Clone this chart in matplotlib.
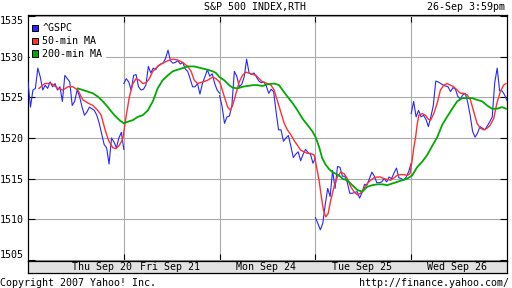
import numpy as np
import matplotlib
matplotlib.use("Agg")
import matplotlib.pyplot as plt
from matplotlib.patches import Patch

# ---------------- data ----------------
days = ["Thu Sep 20", "Fri Sep 21", "Mon Sep 24", "Tue Sep 25", "Wed Sep 26"]
session_minutes = 390
minute_of_day = np.arange(0, 391, 10)

gspc_thu = [1526.9, 1523.8, 1525.9, 1526.1, 1528.6, 1527.5, 1525.9, 1526.5, 1526.1, 1526.9,
            1526.3, 1526.7, 1525.9, 1526.3, 1524.5, 1527.7, 1527.3, 1526.9, 1524.0, 1524.5,
            1525.9, 1525.1, 1523.8, 1522.8, 1523.2, 1523.8, 1523.6, 1523.4, 1522.8, 1521.8,
            1520.5, 1519.2, 1518.8, 1516.8, 1520.0, 1519.5, 1518.8, 1520.0, 1520.7, 1518.6]
gspc_fri = [1526.7, 1527.3, 1526.9, 1525.9, 1527.7, 1527.8, 1526.3, 1525.9, 1526.0, 1526.5,
            1528.8, 1528.0, 1528.6, 1528.4, 1528.9, 1529.1, 1529.2, 1529.8, 1530.8, 1529.5,
            1529.2, 1529.3, 1529.5, 1529.1, 1529.3, 1528.5, 1528.2, 1527.3, 1526.3, 1526.3,
            1526.7, 1525.4, 1526.7, 1527.5, 1528.4, 1527.6, 1527.9, 1526.7, 1525.9, 1525.5]
gspc_mon = [1525.2, 1523.9, 1521.8, 1522.6, 1522.7, 1524.0, 1528.2, 1527.6, 1526.3, 1526.6,
            1527.5, 1529.7, 1528.0, 1527.8, 1528.0, 1527.5, 1527.0, 1526.8, 1526.9, 1526.4,
            1525.5, 1526.0, 1525.7, 1523.2, 1521.0, 1521.0, 1519.6, 1520.0, 1520.3, 1519.0,
            1517.6, 1518.0, 1518.3, 1517.2, 1518.0, 1518.6, 1518.2, 1518.0, 1516.9, 1517.5]
gspc_tue = [1510.2, 1509.5, 1508.7, 1509.5, 1511.8, 1513.8, 1512.8, 1516.0, 1513.8, 1516.5,
            1516.4, 1515.3, 1515.3, 1514.5, 1513.2, 1513.2, 1513.3, 1513.4, 1512.6, 1513.3,
            1514.3, 1514.2, 1515.0, 1515.8, 1515.3, 1514.5, 1514.5, 1514.6, 1515.0, 1514.6,
            1515.2, 1515.0, 1515.7, 1516.3, 1515.1, 1515.0, 1514.8, 1515.2, 1515.9, 1516.9]
gspc_wed = [1523.0, 1524.5, 1522.6, 1523.4, 1522.6, 1522.8, 1522.3, 1521.4, 1522.6, 1524.0,
            1527.0, 1526.9, 1526.7, 1526.5, 1526.4, 1526.3, 1525.7, 1526.2, 1526.0, 1525.1,
            1524.8, 1525.3, 1525.5, 1524.4, 1522.8, 1520.8, 1520.1, 1520.6, 1521.4, 1521.2,
            1521.0, 1521.5, 1522.0, 1522.6, 1526.8, 1528.6, 1525.8, 1525.8, 1525.3, 1524.6]
gspc_days = [gspc_thu, gspc_fri, gspc_mon, gspc_tue, gspc_wed]

# 50-min moving average (trading minutes since Thu open, price)
ma50_t = [45, 68, 95, 122, 142, 162, 183, 203, 223, 244, 264, 284, 298, 314, 328, 345, 359,
          372, 386, 399, 413, 427, 440, 454, 467, 481, 494, 508, 528, 548, 569, 589, 609, 630,
          650, 664, 677, 691, 711, 731, 752, 765, 779, 785, 799, 813, 824, 833, 847, 860, 873,
          887, 907, 928, 941, 955, 975, 989, 1002, 1016, 1029, 1043, 1056, 1070, 1083, 1097,
          1110, 1124, 1138, 1151, 1165, 1175, 1185, 1194, 1203, 1212, 1222, 1232, 1246, 1259,
          1273, 1287, 1300, 1314, 1327, 1341, 1354, 1368, 1381, 1395, 1408, 1422, 1435, 1449,
          1463, 1476, 1490, 1503, 1517, 1530, 1544, 1555, 1564, 1571, 1578, 1584, 1591, 1605,
          1618, 1630, 1639, 1652, 1666, 1679, 1693, 1706, 1720, 1733, 1747, 1760, 1774, 1788,
          1801, 1815, 1828, 1842, 1855, 1869, 1882, 1896, 1909, 1923, 1936, 1946]
ma50_v = [1526.1, 1526.7, 1526.7, 1526.1, 1525.9, 1526.3, 1526.3, 1525.9, 1524.7, 1524.3,
          1524.0, 1523.4, 1522.8, 1521.0, 1519.7, 1518.8, 1518.7, 1519.1, 1519.9, 1522.6,
          1525.1, 1526.7, 1527.3, 1527.1, 1526.7, 1526.8, 1527.3, 1528.2, 1528.8, 1529.2,
          1529.5, 1529.7, 1529.6, 1529.3, 1528.8, 1528.2, 1527.1, 1526.7, 1526.9, 1527.1,
          1527.5, 1527.3, 1526.9, 1526.5, 1525.1, 1523.8, 1523.4, 1524.0, 1525.5, 1526.9,
          1527.7, 1528.1, 1527.9, 1527.7, 1527.3, 1526.9, 1526.7, 1526.5, 1525.9, 1524.5,
          1523.2, 1521.8, 1521.0, 1520.4, 1519.7, 1519.1, 1518.5, 1518.3, 1518.1, 1518.1,
          1517.9, 1516.4, 1514.8, 1512.8, 1511.1, 1510.3, 1510.7, 1512.3, 1514.0, 1515.2,
          1515.8, 1515.6, 1515.0, 1514.0, 1513.4, 1513.0, 1513.2, 1513.8, 1514.4, 1514.8,
          1515.1, 1515.2, 1515.2, 1515.0, 1514.9, 1514.8, 1515.1, 1515.4, 1515.5, 1515.5,
          1515.4, 1515.6, 1517.3, 1518.9, 1520.1, 1521.6, 1522.8, 1523.0, 1522.8, 1522.3,
          1522.2, 1523.0, 1524.3, 1525.9, 1526.5, 1526.7, 1526.5, 1526.3, 1525.9, 1525.5,
          1525.5, 1525.3, 1524.7, 1523.2, 1521.8, 1521.2, 1521.0, 1521.2, 1521.6, 1522.4,
          1524.3, 1525.7, 1526.5, 1526.7]

# 200-min moving average
ma200_t = [203, 223, 244, 264, 284, 305, 325, 341, 352, 372, 390, 406, 427, 447, 467, 488,
           508, 528, 548, 569, 589, 609, 630, 650, 677, 704, 731, 752, 765, 779, 799, 819,
           833, 853, 873, 894, 914, 934, 955, 975, 1002, 1022, 1036, 1056, 1077, 1097, 1117,
           1138, 1158, 1171, 1185, 1198, 1212, 1225, 1239, 1253, 1266, 1280, 1300, 1320, 1341,
           1361, 1381, 1402, 1422, 1442, 1463, 1483, 1503, 1523, 1544, 1564, 1584, 1605, 1625,
           1645, 1666, 1686, 1706, 1727, 1747, 1767, 1788, 1808, 1828, 1849, 1869, 1889, 1909,
           1930, 1946]
ma200_v = [1526.1, 1525.9, 1525.7, 1525.5, 1525.1, 1524.5, 1523.8, 1523.2, 1522.8, 1522.2,
           1521.8, 1522.0, 1522.2, 1522.6, 1522.8, 1523.4, 1524.5, 1526.1, 1527.1, 1527.7,
           1528.2, 1528.4, 1528.6, 1528.8, 1528.8, 1528.6, 1528.4, 1528.2, 1528.0, 1527.5,
           1527.1, 1526.5, 1526.2, 1526.1, 1526.3, 1526.4, 1526.5, 1526.5, 1526.4, 1526.6,
           1526.7, 1526.5, 1525.9, 1525.1, 1524.3, 1523.4, 1522.4, 1521.6, 1520.8, 1520.1,
           1518.9, 1517.5, 1516.7, 1516.2, 1515.8, 1515.6, 1515.4, 1515.0, 1514.8, 1514.2,
           1513.6, 1513.4, 1514.0, 1514.2, 1514.3, 1514.3, 1514.2, 1514.4, 1514.6, 1514.8,
           1515.0, 1515.4, 1516.4, 1517.1, 1517.9, 1519.0, 1520.1, 1521.6, 1522.6, 1523.6,
           1524.5, 1524.9, 1524.9, 1524.9, 1524.7, 1524.5, 1524.0, 1523.6, 1523.6, 1523.8,
           1523.6]

yticks = [1505, 1510, 1515, 1520, 1525, 1530, 1535]
series_names = ["^GSPC", "50-min MA", "200-min MA"]

# ---------------- style ----------------
BLUE, RED, GREEN = "#2626ff", "#ff3030", "#00aa00"
MONO = "DejaVu Sans Mono"
FS = 7.2
W, H = 512, 288

fig = plt.figure(figsize=(W / 100, H / 100), dpi=100)
fig.patch.set_facecolor("white")

L, R, T, B = 28, 507, 15, 260.5
ax = fig.add_axes([L / W, 1 - B / H, (R - L) / W, (B - T) / H])
ax.set_xlim(0, 5 * session_minutes)
ax.set_ylim(1504.93, 1535.13)

for d, vals in enumerate(gspc_days):
    ax.plot(d * session_minutes + minute_of_day, vals, color=BLUE, lw=0.8, zorder=3)
ax.plot(ma50_t, ma50_v, color=RED, lw=1.0, zorder=4)
ax.plot(ma200_t, ma200_v, color=GREEN, lw=1.3, zorder=5)

ax.set_xticks([session_minutes * k for k in range(1, 5)])
ax.set_xticklabels([])
ax.set_yticks(yticks)
ax.set_yticklabels([str(v) for v in yticks], family=MONO, fontsize=FS)
ax.grid(True, color="#aaaaaa", lw=0.8)
ax.set_axisbelow(True)
ax.tick_params(direction="in", length=5, width=0.8, color="black",
               top=True, right=True, pad=3.2)
labs = ax.get_yticklabels()
labs[0].set_verticalalignment("bottom")
labs[-1].set_verticalalignment("top")
for s in ax.spines.values():
    s.set_linewidth(0.9)
    s.set_color("black")

handles = [Patch(facecolor=c, edgecolor="black", linewidth=0.7, label=n)
           for c, n in zip([BLUE, RED, GREEN], series_names)]
leg = ax.legend(handles=handles, loc="upper left", bbox_to_anchor=(0.0, 0.982),
                prop={"family": MONO, "size": FS}, handlelength=0.62, handleheight=0.62,
                handletextpad=0.42, labelspacing=0.29, borderpad=0.25, borderaxespad=0.15,
                frameon=True, fancybox=False, framealpha=1.0, facecolor="white",
                edgecolor="white")
leg.set_zorder(6)

# date bar
bar = fig.add_axes([L / W, 1 - 273 / H, (R - L) / W, (273 - B) / H])
bar.set_facecolor("#e2e2e2")
bar.set_xlim(0, 5 * session_minutes)
bar.set_ylim(0, 1)
bar.set_xticks([])
bar.set_yticks([])
for s in bar.spines.values():
    s.set_linewidth(0.9)
    s.set_color("black")
label_pos = [300, 578, 968, 1358, 1748]
for pos, name in zip(label_pos, days):
    bar.text(pos, 0.45, name, ha="center", va="center", family=MONO, fontsize=FS)

fig.text(255 / W, 1 - 6.7 / H, "S&P 500 INDEX,RTH", ha="center", va="center",
         family=MONO, fontsize=FS)
fig.text(505 / W, 1 - 6.7 / H, "26-Sep 3:59pm", ha="right", va="center",
         family=MONO, fontsize=FS)
fig.text(0.5 / W, 1 - 282.7 / H, "Copyright 2007 Yahoo! Inc.", ha="left", va="center",
         family=MONO, fontsize=FS)
fig.text(509 / W, 1 - 282.7 / H, "http://finance.yahoo.com/", ha="right", va="center",
         family=MONO, fontsize=FS)

fig.savefig("out.png", dpi=100)
